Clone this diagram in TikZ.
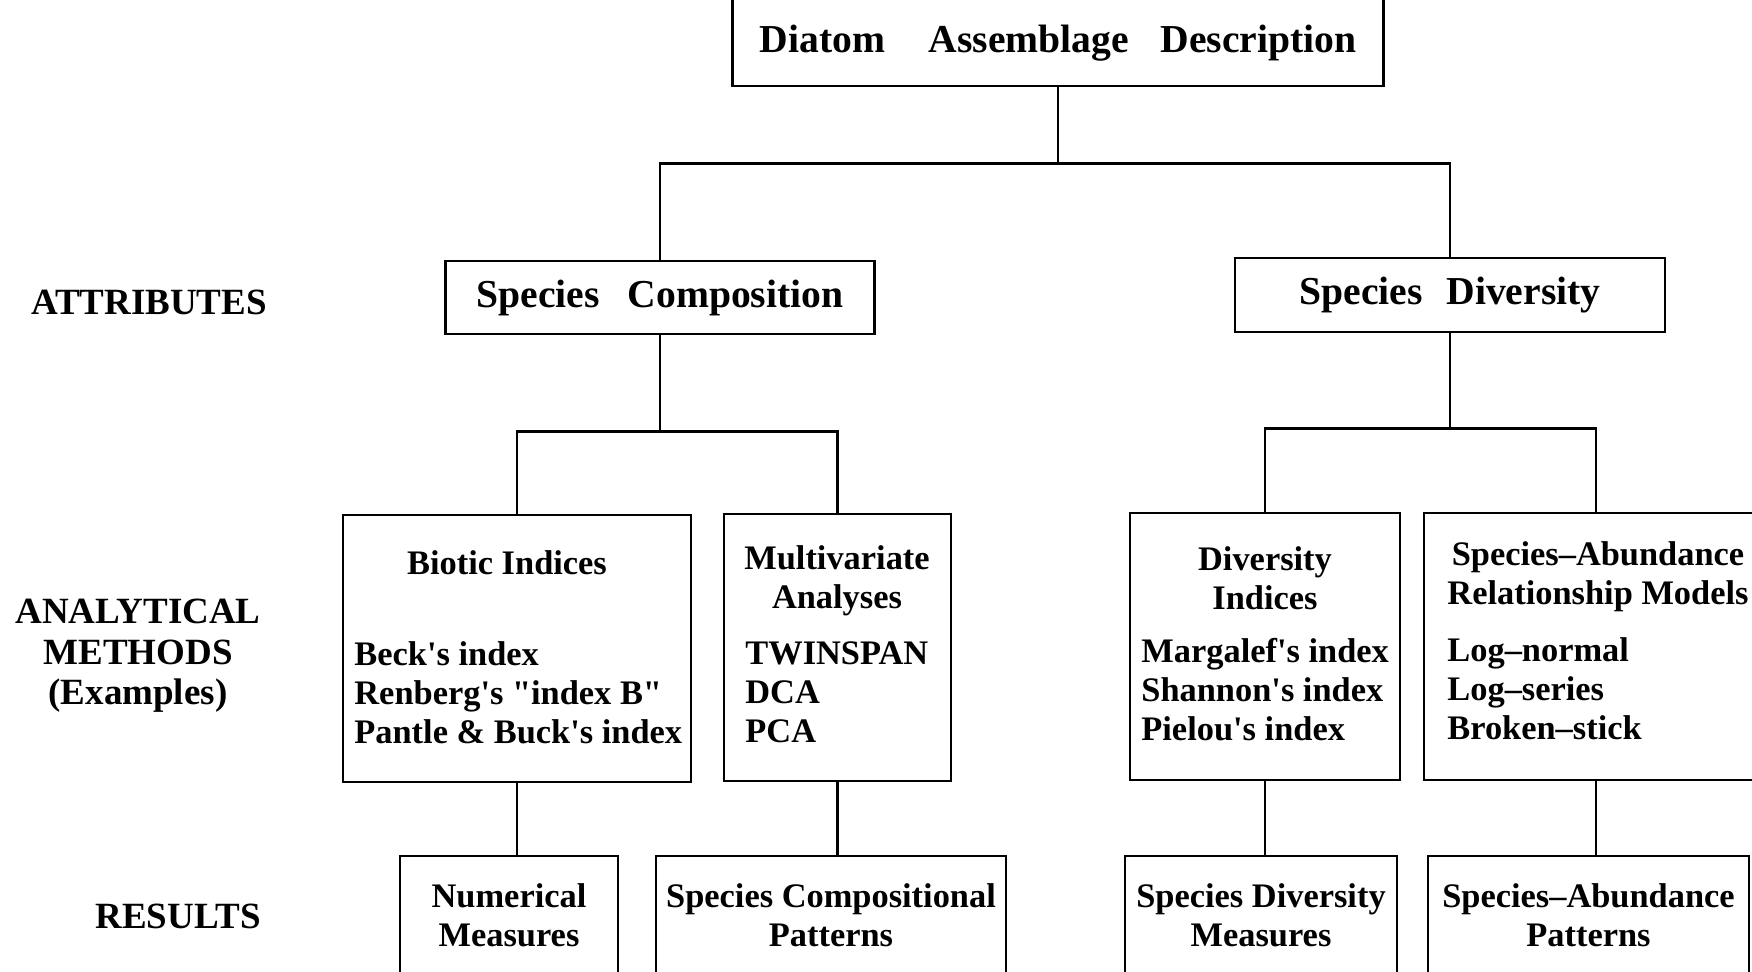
\documentclass[tikz,border=0pt]{standalone}
\usepackage{fontspec}
\setmainfont{Liberation Serif}

\newcommand\txtfont{\fontsize{17.2}{19.5}\selectfont\bfseries}
\newcommand\headfont{\fontsize{19.8}{22}\selectfont\bfseries}
\newcommand\sidefont{\fontsize{18.5}{20.3}\selectfont\bfseries}
\newcommand\ap{\textquotesingle}

\begin{document}
\begin{tikzpicture}[x=0.5pt,y=-0.5pt,
  box/.style={draw, line width=1.4pt, inner sep=0pt, align=center, font=\txtfont},
  topbox/.style={box, font=\headfont},
  txt/.style={inner sep=0pt, align=left, font=\txtfont},
  side/.style={inner sep=0pt, align=center, font=\sidefont},
  link/.style={line width=1.4pt}]
  \useasboundingbox (0,0) rectangle (1752,971);
  \clip (0,0) rectangle (1752,971);

  % side labels
  \node[side] (attr) at (149,302) {ATTRIBUTES};
  \node[side] (meth) at (138,656) {ANALYTICAL\\METHODS\\(Examples)};
  \node[side] (res) at (178,916) {RESULTS};

  % top and attribute boxes
  \node[topbox, minimum width=325.5pt, minimum height=52pt] (dad) at (1058,34) {};
  \node[txt, font=\headfont] (dad-t) at (1058,43)
    {Diatom\hspace{1.1em}Assemblage\hspace{0.8em}Description};
  \node[topbox, minimum width=214.5pt, minimum height=36.5pt] (sc) at (660,297.5)
    {Species\hspace{0.7em}Composition};
  \node[topbox, minimum width=215pt, minimum height=37pt] (sd) at (1450,295)
    {Species\hspace{0.6em}Diversity};

  % analytical method boxes
  \node[box, minimum width=174pt, minimum height=133.5pt] (bio) at (517,648.5) {};
  \node[box, minimum width=113.5pt, minimum height=133.5pt] (mva) at (837.5,647.5) {};
  \node[box, minimum width=135pt, minimum height=133.5pt] (dvi) at (1265,646.5) {};
  \node[box, minimum width=172pt, minimum height=133.5pt] (sab) at (1596,646.5) {};

  \node[txt, align=center] (bio-h) at (507,563) {Biotic Indices};
  \node[txt, anchor=west] (bio-l) at (354,693)
    {Beck\ap s index\\Renberg\ap s \textquotedbl index B\textquotedbl\\Pantle \& Buck\ap s index};
  \node[txt, align=center] (mva-h) at (837,581) {Multivariate\\Analyses};
  \node[txt, anchor=west] (mva-l) at (745,692) {TWINSPAN\\DCA\\PCA};
  \node[txt, align=center] (dvi-h) at (1265,578) {Diversity\\Indices};
  \node[txt, anchor=west] (dvi-l) at (1141,690)
    {Margalef\ap s index\\Shannon\ap s index\\Pielou\ap s index};
  \node[txt, align=center] (sab-h) at (1598,577) {Species--Abundance\\Relationship Models};
  \node[txt, anchor=west] (sab-l) at (1447,688.5) {Log--normal\\Log--series\\Broken--stick};

  % result boxes
  \node[box, minimum width=109pt, minimum height=59.5pt] (num) at (509,915.5)
    {Numerical\\Measures};
  \node[box, minimum width=175pt, minimum height=59.5pt] (scp) at (831,915.5)
    {Species Compositional\\Patterns};
  \node[box, minimum width=136pt, minimum height=59.5pt] (sdm) at (1261,915.5)
    {Species Diversity\\Measures};
  \node[box, minimum width=160.5pt, minimum height=59.5pt] (sap) at (1588.5,915.5)
    {Species--Abundance\\Patterns};

  % tree connectors
  \draw[link] (dad.south) -- ++(0,76) coordinate (j1);
  \draw[link] (sc.north) |- (j1) -| (sd.north);
  \draw[link] (sc.south) -- ++(0,96) coordinate (j2);
  \draw[link] (bio.north) |- (j2) -| (mva.north);
  \draw[link] (sd.south) -- ++(0,95) coordinate (j3);
  \draw[link] (dvi.north) |- (j3) -| (sab.north);

  \draw[link] (bio.south) -- (bio.south |- num.north);
  \draw[link] (mva.south) -- (mva.south |- scp.north);
  \draw[link] (dvi.south) -- (dvi.south |- sdm.north);
  \draw[link] (sab.south) -- (sab.south |- sap.north);
\end{tikzpicture}
\end{document}
